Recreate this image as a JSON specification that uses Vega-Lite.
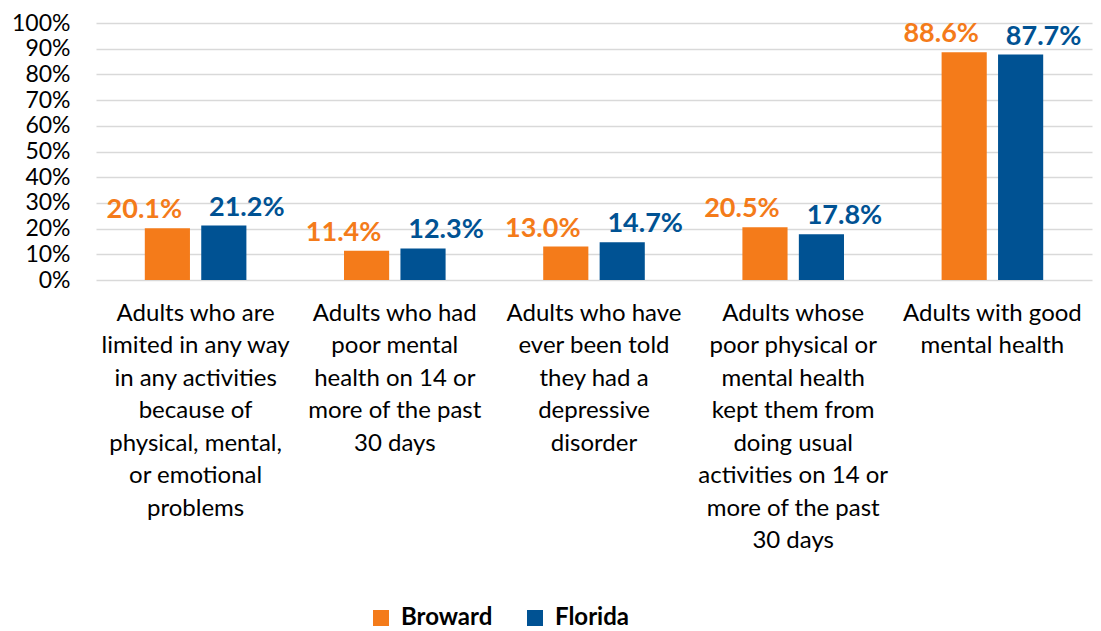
{
  "$schema": "https://vega.github.io/schema/vega-lite/v6.json",
  "width": 996,
  "height": 257,
  "autosize": {"type": "none"},
  "padding": {"left": 96, "top": 23, "right": 9, "bottom": 351},
  "background": "#ffffff",
  "config": {
    "font": "Lato",
    "view": {"stroke": null},
    "axis": {"labelFont": "Lato", "labelColor": "#000000"}
  },
  "data": {
    "values": [
      {"category": "Adults who are|limited in any way|in any activities|because of|physical, mental,|or emotional|problems", "region": "Broward", "value": 0.201},
      {"category": "Adults who are|limited in any way|in any activities|because of|physical, mental,|or emotional|problems", "region": "Florida", "value": 0.212},
      {"category": "Adults who had|poor mental|health on 14 or|more of the past|30 days", "region": "Broward", "value": 0.114},
      {"category": "Adults who had|poor mental|health on 14 or|more of the past|30 days", "region": "Florida", "value": 0.123},
      {"category": "Adults who have|ever been told|they had a|depressive|disorder", "region": "Broward", "value": 0.130},
      {"category": "Adults who have|ever been told|they had a|depressive|disorder", "region": "Florida", "value": 0.147},
      {"category": "Adults whose|poor physical or|mental health|kept them from|doing usual|activities on 14 or|more of the past|30 days", "region": "Broward", "value": 0.205},
      {"category": "Adults whose|poor physical or|mental health|kept them from|doing usual|activities on 14 or|more of the past|30 days", "region": "Florida", "value": 0.178},
      {"category": "Adults with good|mental health", "region": "Broward", "value": 0.886},
      {"category": "Adults with good|mental health", "region": "Florida", "value": 0.877}
    ]
  },
  "encoding": {
    "x": {
      "field": "category",
      "type": "nominal",
      "sort": null,
      "scale": {"paddingInner": 0.49, "paddingOuter": 0.245},
      "axis": {
        "title": null,
        "labelAngle": 0,
        "domain": false,
        "ticks": false,
        "labelPadding": 21,
        "labelFontSize": 24,
        "labelLineHeight": 32.5,
        "labelLimit": 400,
        "labelExpr": "split(datum.label, '|')"
      }
    },
    "xOffset": {
      "field": "region",
      "type": "nominal",
      "scale": {"paddingInner": 0.2}
    },
    "y": {
      "field": "value",
      "type": "quantitative",
      "scale": {"domain": [0, 1]},
      "axis": {
        "title": null,
        "format": ".0%",
        "values": [0, 0.1, 0.2, 0.3, 0.4, 0.5, 0.6, 0.7, 0.8, 0.9, 1],
        "domain": false,
        "ticks": false,
        "labelPadding": 26,
        "labelFontSize": 23,
        "gridColor": "#d9d9d9",
        "gridWidth": 1.5
      }
    }
  },
  "layer": [
    {
      "mark": {"type": "bar"},
      "encoding": {
        "color": {
          "field": "region",
          "type": "nominal",
          "scale": {"domain": ["Broward", "Florida"], "range": ["#F47B1A", "#005293"]},
          "legend": {
            "title": null,
            "orient": "none",
            "direction": "horizontal",
            "legendX": 273,
            "legendY": 583,
            "symbolType": "square",
            "symbolSize": 256,
            "symbolStrokeWidth": 0,
            "symbolOpacity": 1,
            "labelFont": "Lato",
            "labelFontSize": 24,
            "labelFontWeight": "bold",
            "labelColor": "#000000",
            "columnPadding": 30,
            "labelOffset": 8
          }
        }
      }
    },
    {
      "transform": [{"filter": "datum.region === 'Broward'"}],
      "mark": {"type": "text", "baseline": "alphabetic", "dy": -10, "dx": -23, "fontSize": 27, "fontWeight": "bold", "color": "#F47B1A"},
      "encoding": {"text": {"field": "value", "type": "quantitative", "format": ".1%"}}
    },
    {
      "transform": [{"filter": "datum.region === 'Florida'"}],
      "mark": {"type": "text", "baseline": "alphabetic", "dy": -10, "dx": 23, "fontSize": 27, "fontWeight": "bold", "color": "#005293"},
      "encoding": {"text": {"field": "value", "type": "quantitative", "format": ".1%"}}
    }
  ]
}
